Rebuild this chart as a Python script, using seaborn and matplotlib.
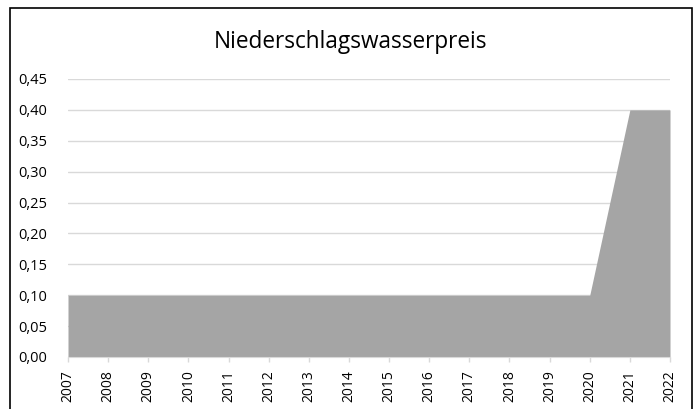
import matplotlib
matplotlib.use("Agg")
import matplotlib.pyplot as plt
import seaborn as sns
import pandas as pd
from matplotlib.patches import Rectangle
from matplotlib.ticker import FuncFormatter

years = list(range(2007, 2023))
preis = [0.10, 0.10, 0.10, 0.10, 0.10, 0.10, 0.10, 0.10,
         0.10, 0.10, 0.10, 0.10, 0.10, 0.10, 0.40, 0.40]
y_ticks = [0.00, 0.05, 0.10, 0.15, 0.20, 0.25, 0.30, 0.35, 0.40, 0.45]

df = pd.DataFrame({"Jahr": years, "Preis": preis})

sns.set_style("white")
plt.rcParams["font.family"] = ["Open Sans", "DejaVu Sans"]

fig = plt.figure(figsize=(6.96, 4.09), dpi=100)
ax = fig.add_axes([68 / 696, 1 - 357 / 409, (670 - 68) / 696, (357 - 79) / 409])

sns.lineplot(data=df, x="Jahr", y="Preis", ax=ax, color="#A5A5A5", linewidth=0)
ax.fill_between(df["Jahr"], df["Preis"], color="#A5A5A5", linewidth=0, zorder=2)

ax.set_xlim(years[0], years[-1])
ax.set_ylim(0, 0.45)
ax.set_yticks(y_ticks)
ax.yaxis.set_major_formatter(FuncFormatter(lambda v, p: f"{v:.2f}".replace(".", ",")))
ax.set_xticks(years)
ax.set_xticklabels([str(y) for y in years], rotation=90)

ax.grid(axis="y", color="#D9D9D9", linewidth=1, zorder=0)
ax.set_axisbelow(True)
for s in ["top", "right", "left"]:
    ax.spines[s].set_visible(False)
ax.spines["bottom"].set_color("#D9D9D9")
ax.spines["bottom"].set_zorder(3)
ax.tick_params(axis="x", bottom=True, length=3.6, color="#D9D9D9", width=1,
               labelsize=10, pad=6, labelcolor="black")
ax.tick_params(axis="y", left=False, labelsize=10.5, pad=11.5, labelcolor="black")
ax.set_xlabel("")
ax.set_ylabel("")

fig.text(350 / 696, 1 - 47.5 / 409, "Niederschlagswasserpreis", ha="center", va="baseline",
         fontsize=16.3, color="black")

fig.patches.append(Rectangle((10 / 696, -0.1), 682 / 696, 1.1 - 8 / 409,
                             transform=fig.transFigure, fill=False,
                             edgecolor="black", linewidth=1.2))

fig.savefig("out.png", dpi=100)
